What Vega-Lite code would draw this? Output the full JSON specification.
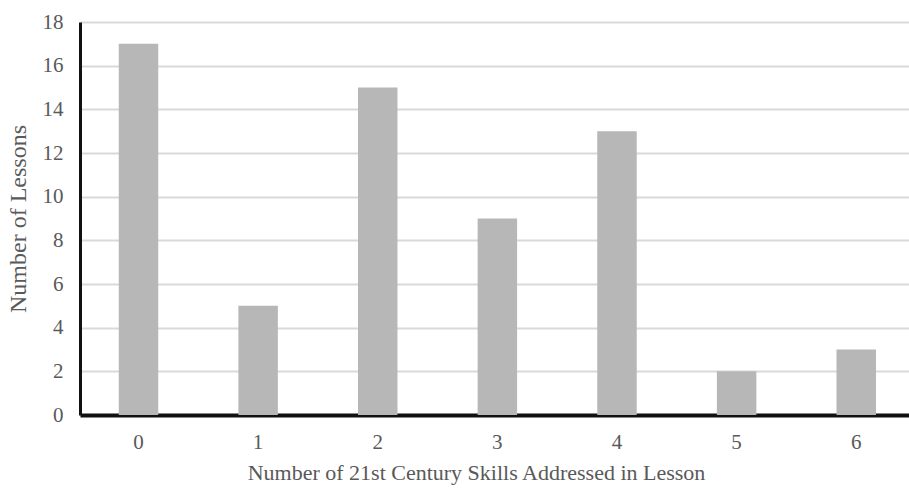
{
  "$schema": "https://vega.github.io/schema/vega-lite/v6.json",
  "autosize": "none",
  "width": 829,
  "height": 393,
  "padding": {"left": 80, "top": 22, "right": 0, "bottom": 73},
  "background": "white",
  "config": {"view": {"stroke": null}, "font": "Liberation Serif"},
  "data": {"values": [
    {"skills": "0", "lessons": 17},
    {"skills": "1", "lessons": 5},
    {"skills": "2", "lessons": 15},
    {"skills": "3", "lessons": 9},
    {"skills": "4", "lessons": 13},
    {"skills": "5", "lessons": 2},
    {"skills": "6", "lessons": 3}
  ]},
  "mark": {"type": "bar", "color": "#b7b7b7"},
  "encoding": {
    "x": {
      "field": "skills", "type": "ordinal", "sort": null,
      "scale": {"paddingInner": 0.67, "paddingOuter": 0.3, "align": 0.54},
      "axis": {
        "title": "Number of 21st Century Skills Addressed in Lesson",
        "labelAngle": 0, "labelFontSize": 21, "labelColor": "#595959", "labelPadding": 16,
        "ticks": false, "domainColor": "#111111", "domainWidth": 4,
        "titleFontSize": 22, "titleFontWeight": "normal", "titleColor": "#595959", "titlePadding": 10,
        "titleX": 396
      }
    },
    "y": {
      "field": "lessons", "type": "quantitative",
      "scale": {"domain": [0, 18]},
      "axis": {
        "title": "Number of Lessons", "values": [0, 2, 4, 6, 8, 10, 12, 14, 16, 18],
        "labelFontSize": 21, "labelColor": "#595959", "labelPadding": 17,
        "ticks": false, "domainColor": "#111111", "domainWidth": 3,
        "gridColor": "#d9d9d9", "gridWidth": 2,
        "titleFontSize": 24, "titleFontWeight": "normal", "titleColor": "#595959", "titlePadding": 12
      }
    }
  }
}
